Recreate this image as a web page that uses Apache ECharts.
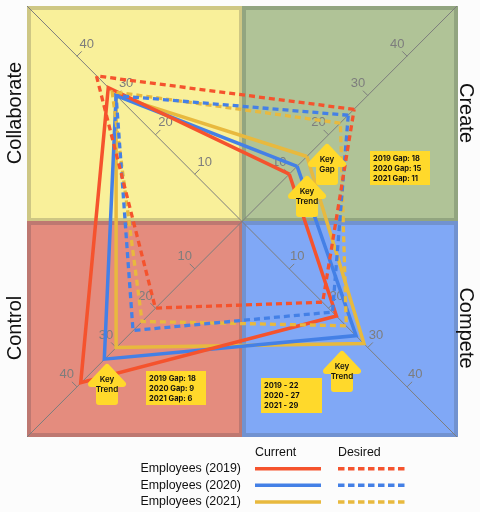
<!DOCTYPE html>
<html><head><meta charset="utf-8">
<style>html,body{margin:0;padding:0;background:#fcfcfc}#c{width:480px;height:512px}</style>
<script src="https://cdn.jsdelivr.net/npm/echarts@6/dist/echarts.min.js"></script>
</head><body><div id="c"></div>
<script>
const quadrants = ['Create', 'Collaborate', 'Control', 'Compete'];
const current2019 = [10, 32, 39, 22];
const current2020 = [12, 30, 33, 27];
const current2021 = [14.5, 30, 30, 29];
const desired2019 = [26.5, 35, 20, 18.5];
const desired2020 = [25, 30, 25.7, 21];
const desired2021 = [23, 31, 23.4, 24.5];
const tickValues = [10, 20, 30, 40];
const legendNames = ['Employees (2019)', 'Employees (2020)', 'Employees (2021)'];
const legendHeads = ['Current', 'Desired'];
const createNotes = ['2019 Gap: 18', '2020 Gap: 15', '2021 Gap: 11'];
const controlNotes = ['2019 Gap: 18', '2020 Gap: 9', '2021 Gap: 6'];
const competeNotes = ['2019 - 22', '2020 - 27', '2021 - 29'];

const RED = '#F5532D', BLUE = '#4480E6', YEL = '#E8B93E', KEY = '#FFD92B';
const cx = 242, cy = 221.5, unit = 3.93, off = 8;
const font = '"Liberation Sans", Arial, sans-serif';

function panel(x, y, w, h, fill, border) {
  return { type: 'rect', z: -5, silent: true, shape: { x: x + 2, y: y + 2, width: w - 4, height: h - 4 },
    style: { fill: fill, stroke: border, lineWidth: 4 } };
}
function diag(x1, y1, x2, y2) {
  return { type: 'line', z: -4, silent: true, shape: { x1, y1, x2, y2 }, style: { stroke: '#7d7d7d', lineWidth: 1 } };
}
function arrow(tipX, tipY, a, b) {
  const pts = [[tipX, tipY + 3], [tipX + 16, tipY + 20], [tipX + 8, tipY + 20], [tipX + 8, tipY + 38],
    [tipX - 8, tipY + 38], [tipX - 8, tipY + 20], [tipX - 16, tipY + 20]];
  return [
    { type: 'polygon', z: 50, silent: true, shape: { points: pts }, style: { fill: KEY, stroke: KEY, lineWidth: 6, lineJoin: 'round' } },
    { type: 'text', z: 51, silent: true, style: { x: tipX, y: tipY + 16, text: a, fill: '#111', align: 'center', verticalAlign: 'middle', font: '600 8px Inter' } },
    { type: 'text', z: 51, silent: true, style: { x: tipX, y: tipY + 26, text: b, fill: '#111', align: 'center', verticalAlign: 'middle', font: '600 8px Inter' } }
  ];
}
function note(x, y, w, h, lines) {
  const out = [{ type: 'rect', z: 50, silent: true, shape: { x, y, width: w, height: h }, style: { fill: KEY } }];
  lines.forEach((t, i) => out.push({ type: 'text', z: 51, silent: true,
    style: { x: x + 3, y: y + 7.5 + i * 10, text: t, fill: '#111', align: 'left', verticalAlign: 'middle', font: '700 7.5px Inter' } }));
  return out;
}
function sideLabel(x, y, text, rot) {
  return { type: 'text', z: 10, silent: true, x, y, rotation: rot,
    style: { x: 0, y: 0, text, fill: '#111', align: 'center', verticalAlign: 'middle', font: '20px ' + font } };
}
const legendColors = [RED, BLUE, YEL];
const legendGraphics = [];
legendHeads.forEach((t, i) => legendGraphics.push({ type: 'text', silent: true,
  style: { x: i ? 338 : 255, y: 453, text: t, fill: '#111', align: 'left', verticalAlign: 'middle', font: '12.4px ' + font } }));
legendNames.forEach((t, i) => {
  const y = 468.7 + i * 16.6;
  legendGraphics.push({ type: 'text', silent: true, style: { x: 241, y, text: t, fill: '#111', align: 'right', verticalAlign: 'middle', font: '12.4px ' + font } });
  legendGraphics.push({ type: 'line', silent: true, shape: { x1: 255, y1: y, x2: 321, y2: y }, style: { stroke: legendColors[i], lineWidth: 3.5 } });
  legendGraphics.push({ type: 'line', silent: true, shape: { x1: 338, y1: y, x2: 405, y2: y }, style: { stroke: legendColors[i], lineWidth: 3.5, lineDash: [6.5, 3.5] } });
});

const tickMax = 40;
const labelBase = { show: true, color: '#7d7d7d', fontSize: 13, fontFamily: font, align: 'center', verticalAlign: 'middle', customValues: tickValues };
const tickBase = { show: true, lineStyle: { color: '#7d7d7d', width: 1 }, customValues: tickValues };
// Per-axis side: a negative margin / tick length puts them on the opposite side of the spoke.
const axisSides = [
  { axisTick: Object.assign({ length: 7 }, tickBase), axisLabel: Object.assign({ margin: 17, padding: [0, 0, 9, 4] }, labelBase) },
  { axisTick: Object.assign({ length: -7 }, tickBase), axisLabel: Object.assign({ margin: -17, padding: [0, 4, 8, 0] }, labelBase) },
  { axisTick: Object.assign({ length: -7 }, tickBase), axisLabel: Object.assign({ margin: -17, padding: [0, 0, 4, 4] }, labelBase) },
  { axisTick: Object.assign({ length: 7 }, tickBase), axisLabel: Object.assign({ margin: 17, padding: [0, 8, 6, 0] }, labelBase) }
];
const chart = echarts.init(document.getElementById('c'), null, { renderer: 'canvas' });
const indicator = quadrants.map((q, i) => Object.assign({ name: q, min: 0, max: tickMax }, axisSides[i]));
function s(name, values, color, dashed) {
  return { type: 'radar', name, symbol: 'none', z: 5, silent: true, animation: false,
    data: [{ value: values, name }],
    lineStyle: { color, width: dashed ? 3.3 : 3.5, type: dashed ? [6, 4] : 'solid', join: 'miter' } };
}
chart.setOption({
  animation: false,
  backgroundColor: '#fcfcfc',
  radar: {
    center: [cx, cy], startAngle: 45, shape: 'polygon', splitNumber: 4,
    radius: [off * Math.SQRT2, (off + unit * tickMax) * Math.SQRT2],
    indicator,
    axisName: { show: false },
    splitLine: { show: false }, splitArea: { show: false },
    axisLine: { show: false },
    axisTick: tickBase,
    axisLabel: labelBase
  },
  series: [
    s('Employees (2021) Current', current2021, YEL, false),
    s('Employees (2020) Current', current2020, BLUE, false),
    s('Employees (2019) Current', current2019, RED, false),
    s('Employees (2021) Desired', desired2021, YEL, true),
    s('Employees (2020) Desired', desired2020, BLUE, true),
    s('Employees (2019) Desired', desired2019, RED, true)
  ],
  graphic: [
    panel(27, 6, 216, 216, '#F9F09A', '#CEC784'),
    panel(242, 6, 216, 216, '#B0C397', '#92A580'),
    panel(27, 221, 216, 216, '#E48C7E', '#BE7871'),
    panel(242, 221, 216, 216, '#80A8F6', '#7192D0'),
    diag(27, 6, 457, 437), diag(457, 6, 27, 437),
    sideLabel(15, 113, 'Collaborate', Math.PI / 2),
    sideLabel(466, 113, 'Create', -Math.PI / 2),
    sideLabel(15, 328, 'Control', Math.PI / 2),
    sideLabel(466, 328, 'Compete', -Math.PI / 2),
    ...arrow(327, 144, 'Key', 'Gap'),
    ...arrow(307, 176, 'Key', 'Trend'),
    ...arrow(107, 364, 'Key', 'Trend'),
    ...arrow(342, 351, 'Key', 'Trend'),
    ...note(370, 151, 60, 34, createNotes),
    ...note(146, 371, 60, 34, controlNotes),
    ...note(261, 378, 61, 35, competeNotes),
    ...legendGraphics
  ]
});
</script></body></html>
